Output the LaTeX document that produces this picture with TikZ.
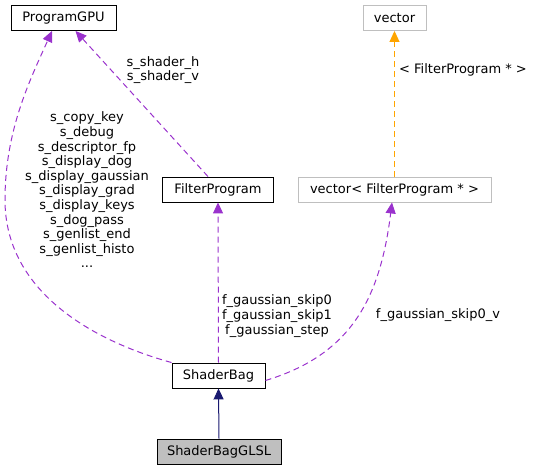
\documentclass[tikz,border=0pt]{standalone}
\usepackage{fontspec}
\setmainfont{DejaVu Sans}
\usetikzlibrary{arrows.meta}
\definecolor{edgepurple}{HTML}{9A32CD}
\definecolor{edgeorange}{HTML}{FFA500}
\definecolor{edgenavy}{HTML}{191970}
\definecolor{boxgray}{HTML}{BFBFBF}
\begin{document}
\begin{tikzpicture}[x=1pt,y=-1pt,
  font=\fontsize{13}{14.6}\selectfont,
  cls/.style={draw=black,line width=0.9pt,minimum height=25pt,inner sep=0pt,align=center},
  ext/.style={draw=boxgray,line width=0.9pt,minimum height=25pt,inner sep=0pt,align=center},
  usage/.style={draw=edgepurple,line width=1pt,dash pattern=on 6pt off 4pt,-{Triangle[length=11pt,width=10pt]}},
  templ/.style={draw=edgeorange,line width=1pt,dash pattern=on 6pt off 4pt,-{Triangle[length=11pt,width=10pt]}},
  inherit/.style={draw=edgenavy,line width=1pt,-{Triangle[length=11pt,width=10pt]}},
  lbl/.style={align=center,inner sep=0pt}]
\useasboundingbox (0,0) rectangle (533,471);
\node[cls,minimum width=105pt] (pgpu) at (63.5,18) {ProgramGPU};
\node[ext,minimum width=63pt] (vec) at (394.5,18) {vector};
\node[cls,minimum width=111pt] (fp) at (218,189.5) {FilterProgram};
\node[ext,minimum width=193pt] (vfp) at (394.5,189.5) {vector< FilterProgram * >};
\node[cls,minimum width=93pt] (sb) at (218.5,375.5) {ShaderBag};
\node[cls,minimum width=124pt,fill=boxgray] (glsl) at (219,451.5) {ShaderBagGLSL};

\coordinate (c1) at (5,200);
\draw[usage] (sb.north west) .. controls (90,340) and (5,290) .. (c1) .. controls (5,130) and (30,80) .. ([xshift=-11.5pt]pgpu.south);
\draw[usage] ([xshift=-10pt]fp.north) -- ([xshift=12pt]pgpu.south);
\draw[usage] (sb.north) -- (fp.south);
\draw[usage] ([yshift=-5pt]sb.east) .. controls (350,355) and (380,300) .. ([xshift=-2.5pt]vfp.south);
\draw[templ] (vfp.north) -- (vec.south);
\draw[inherit] (glsl.north) -- (sb.south);

\node[lbl] (l1) at (163,70) {s\_shader\_h\\s\_shader\_v};
\node[lbl] (l2) at (87,190) {s\_copy\_key\\s\_debug\\s\_descriptor\_fp\\s\_display\_dog\\s\_display\_gaussian\\s\_display\_grad\\s\_display\_keys\\s\_dog\_pass\\s\_genlist\_end\\s\_genlist\_histo\\...};
\node[lbl] (l3) at (277,316) {f\_gaussian\_skip0\\f\_gaussian\_skip1\\f\_gaussian\_step};
\node[lbl] (l4) at (438,315) {f\_gaussian\_skip0\_v};
\node[lbl] (l5) at (463,70) {< FilterProgram * >};
\end{tikzpicture}
\end{document}
